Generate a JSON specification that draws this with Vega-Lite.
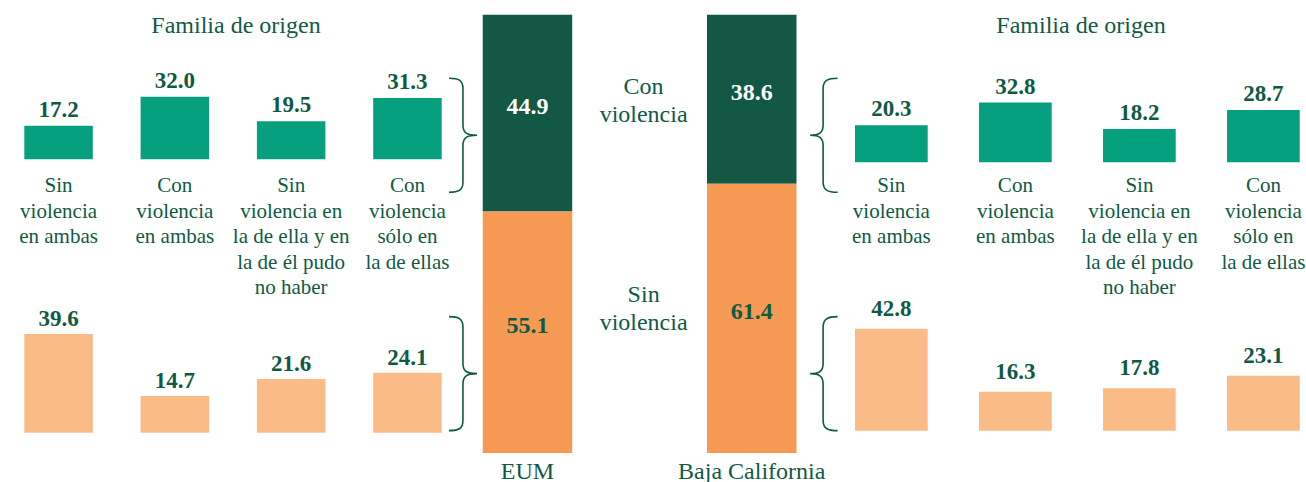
{
  "$schema": "https://vega.github.io/schema/vega-lite/v6.json",
  "padding": 0,
  "background": "white",
  "config": {"view": {"stroke": null}, "font": "Liberation Serif"},
  "datasets": {
    "totales": [
      {"region": "EUM", "series": "Con violencia", "value": 44.9},
      {"region": "EUM", "series": "Sin violencia", "value": 55.1},
      {"region": "Baja California", "series": "Con violencia", "value": 38.6},
      {"region": "Baja California", "series": "Sin violencia", "value": 61.4}
    ],
    "origen": [
      {"region": "EUM", "pareja": "Con violencia", "origen": "Sin\nviolencia\nen ambas", "value": 17.2},
      {"region": "EUM", "pareja": "Con violencia", "origen": "Con\nviolencia\nen ambas", "value": 32.0},
      {"region": "EUM", "pareja": "Con violencia", "origen": "Sin\nviolencia en\nla de ella y en\nla de él pudo\nno haber", "value": 19.5},
      {"region": "EUM", "pareja": "Con violencia", "origen": "Con\nviolencia\nsólo en\nla de ellas", "value": 31.3},
      {"region": "EUM", "pareja": "Sin violencia", "origen": "Sin\nviolencia\nen ambas", "value": 39.6},
      {"region": "EUM", "pareja": "Sin violencia", "origen": "Con\nviolencia\nen ambas", "value": 14.7},
      {"region": "EUM", "pareja": "Sin violencia", "origen": "Sin\nviolencia en\nla de ella y en\nla de él pudo\nno haber", "value": 21.6},
      {"region": "EUM", "pareja": "Sin violencia", "origen": "Con\nviolencia\nsólo en\nla de ellas", "value": 24.1},
      {"region": "Baja California", "pareja": "Con violencia", "origen": "Sin\nviolencia\nen ambas", "value": 20.3},
      {"region": "Baja California", "pareja": "Con violencia", "origen": "Con\nviolencia\nen ambas", "value": 32.8},
      {"region": "Baja California", "pareja": "Con violencia", "origen": "Sin\nviolencia en\nla de ella y en\nla de él pudo\nno haber", "value": 18.2},
      {"region": "Baja California", "pareja": "Con violencia", "origen": "Con\nviolencia\nsólo en\nla de ellas", "value": 28.7},
      {"region": "Baja California", "pareja": "Sin violencia", "origen": "Sin\nviolencia\nen ambas", "value": 42.8},
      {"region": "Baja California", "pareja": "Sin violencia", "origen": "Con\nviolencia\nen ambas", "value": 16.3},
      {"region": "Baja California", "pareja": "Sin violencia", "origen": "Sin\nviolencia en\nla de ella y en\nla de él pudo\nno haber", "value": 17.8},
      {"region": "Baja California", "pareja": "Sin violencia", "origen": "Con\nviolencia\nsólo en\nla de ellas", "value": 23.1}
    ]
  },
  "spacing": 0,
  "bounds": "flush",
  "resolve": {"scale": {"x": "independent", "y": "independent", "color": "independent", "shape": "independent"}},
  "hconcat": [
    {
      "width": 466, "height": 453,
      "title": {"text": "Familia de origen", "font": "Liberation Serif", "fontSize": 24, "fontWeight": "normal", "color": "#0f5a45", "anchor": "middle", "frame": "group", "baseline": "alphabetic", "offset": 0, "dy": 57, "dx": 3},
      "data": {"name": "origen"},
      "transform": [{"filter": "datum.region == 'EUM'"}],
      "encoding": {
        "x": {"field": "origen", "type": "nominal", "sort": null,
          "scale": {"paddingInner": 0.411, "paddingOuter": 0.209, "align": 0.5}, "axis": null}
      },
      "resolve": {"scale": {"y": "independent"}},
      "layer": [
        {
          "transform": [{"filter": "datum.pareja == 'Con violencia'"}],
          "encoding": {"y": {"field": "value", "type": "quantitative", "scale": {"domain": [-150.08, 81.4], "nice": false, "zero": false}, "axis": null}},
          "layer": [
            {"mark": {"type": "bar", "color": "#07a07f"}},
            {"mark": {"type": "text", "baseline": "alphabetic", "dy": -9, "font": "Liberation Serif", "fontSize": 23, "fontWeight": "bold", "color": "#0f5a45"},
             "encoding": {"text": {"field": "value", "type": "quantitative", "format": ".1f"}}},
            {"mark": {"type": "text", "baseline": "alphabetic", "lineBreak": "\n", "lineHeight": 25.5, "dy": 33, "font": "Liberation Serif", "fontSize": 21, "color": "#0f5a45"},
             "encoding": {"y": {"datum": 0, "type": "quantitative"}, "text": {"field": "origen"}}}
          ]
        },
        {
          "transform": [{"filter": "datum.pareja == 'Sin violencia'"}],
          "encoding": {"y": {"field": "value", "type": "quantitative", "scale": {"domain": [-8.15, 173.78], "nice": false, "zero": false}, "axis": null}},
          "layer": [
            {"mark": {"type": "bar", "color": "#fbbb87"}},
            {"mark": {"type": "text", "baseline": "alphabetic", "dy": -8, "font": "Liberation Serif", "fontSize": 23, "fontWeight": "bold", "color": "#0f5a45"},
             "encoding": {"text": {"field": "value", "type": "quantitative", "format": ".1f"}}}
          ]
        }
      ]
    },
    {
      "width": 364, "height": 453,
      "data": {"name": "totales"},
      "encoding": {
        "x": {"field": "region", "type": "nominal",
          "scale": {"domain": ["EUM", "mid", "Baja California"], "paddingInner": 0.202, "paddingOuter": 0.224, "align": 0.333},
          "axis": {"title": null, "domain": false, "ticks": false, "tickSize": 0, "grid": false, "labelAngle": 0, "labelPadding": 25, "labelBaseline": "alphabetic", "labelFont": "Liberation Serif", "labelFontSize": 24, "labelColor": "#0f5a45", "labelOverlap": false, "labelBound": false,
            "labelExpr": "datum.value == 'mid' ? '' : datum.value"}}
      },
      "layer": [
        {"mark": {"type": "bar"},
         "encoding": {
           "y": {"field": "value", "type": "quantitative", "stack": "zero", "scale": {"domain": [0, 103.35], "nice": false}, "axis": null},
           "color": {"field": "series", "type": "nominal", "scale": {"domain": ["Con violencia", "Sin violencia"], "range": ["#135745", "#f69a53"]}, "legend": null},
           "order": {"field": "series", "sort": "descending"}
         }},
        {"mark": {"type": "text", "baseline": "middle", "dy": -6, "font": "Liberation Serif", "fontSize": 24, "fontWeight": "bold"},
         "encoding": {
           "y": {"field": "value", "type": "quantitative", "stack": "zero", "bandPosition": 0.5, "scale": {"domain": [0, 103.35], "nice": false}, "axis": null},
           "detail": {"field": "series"},
           "order": {"field": "series", "sort": "descending"},
           "text": {"field": "value", "type": "quantitative", "format": ".1f"},
           "color": {"condition": {"test": "datum.series == 'Con violencia'", "value": "#ffffff"}, "value": "#0f5a45"}
         }},
        {"transform": [{"filter": "datum.region == 'EUM' && datum.series == 'Con violencia'"}],
         "mark": {"type": "text", "lineBreak": " ", "lineHeight": 28, "baseline": "alphabetic", "align": "center", "dx": 4, "font": "Liberation Serif", "fontSize": 24, "color": "#0f5a45"},
         "encoding": {
           "x": {"datum": "mid"},
           "y": {"datum": 81.84, "type": "quantitative", "scale": {"domain": [0, 103.35], "nice": false}},
           "text": {"field": "series"}
         }},
        {"transform": [{"filter": "datum.region == 'EUM' && datum.series == 'Sin violencia'"}],
         "mark": {"type": "text", "lineBreak": " ", "lineHeight": 28, "baseline": "alphabetic", "align": "center", "dx": 4, "font": "Liberation Serif", "fontSize": 24, "color": "#0f5a45"},
         "encoding": {
           "x": {"datum": "mid"},
           "y": {"datum": 34.52, "type": "quantitative", "scale": {"domain": [0, 103.35], "nice": false}},
           "text": {"field": "series"}
         }},
        {"transform": [{"filter": "datum.series == 'Con violencia'"}],
         "mark": {"type": "point", "filled": false, "opacity": 1, "stroke": "#0f5a45", "strokeWidth": 1.6, "size": 12996},
         "encoding": {
           "y": {"datum": 72.5, "type": "quantitative", "scale": {"domain": [0, 103.35], "nice": false}},
           "shape": {"field": "region", "type": "nominal", "legend": null,
             "scale": {"domain": ["EUM", "Baja California"], "range": [
               "M -1.377 -1 C -1.2 -1 -1.132 -0.96 -1.132 -0.82 L -1.132 -0.18 C -1.132 -0.04 -1.06 0 -0.886 0 C -1.06 0 -1.132 0.04 -1.132 0.18 L -1.132 0.82 C -1.132 0.96 -1.2 1 -1.377 1",
               "M 1.506 -1 C 1.33 -1 1.252 -0.96 1.252 -0.82 L 1.252 -0.18 C 1.252 -0.04 1.18 0 1.024 0 C 1.18 0 1.252 0.04 1.252 0.18 L 1.252 0.82 C 1.252 0.96 1.33 1 1.506 1"]}}
         }},
        {"transform": [{"filter": "datum.series == 'Sin violencia'"}],
         "mark": {"type": "point", "filled": false, "opacity": 1, "stroke": "#0f5a45", "strokeWidth": 1.6, "size": 12996},
         "encoding": {
           "y": {"datum": 18.1, "type": "quantitative", "scale": {"domain": [0, 103.35], "nice": false}},
           "shape": {"field": "region", "type": "nominal", "legend": null,
             "scale": {"domain": ["EUM", "Baja California"], "range": [
               "M -1.377 -1 C -1.2 -1 -1.132 -0.96 -1.132 -0.82 L -1.132 -0.18 C -1.132 -0.04 -1.06 0 -0.886 0 C -1.06 0 -1.132 0.04 -1.132 0.18 L -1.132 0.82 C -1.132 0.96 -1.2 1 -1.377 1",
               "M 1.506 -1 C 1.33 -1 1.252 -0.96 1.252 -0.82 L 1.252 -0.18 C 1.252 -0.04 1.18 0 1.024 0 C 1.18 0 1.252 0.04 1.252 0.18 L 1.252 0.82 C 1.252 0.96 1.33 1 1.506 1"]}}
         }}
      ]
    },
    {
      "width": 476, "height": 453,
      "title": {"text": "Familia de origen", "font": "Liberation Serif", "fontSize": 24, "fontWeight": "normal", "color": "#0f5a45", "anchor": "middle", "frame": "group", "baseline": "alphabetic", "offset": 0, "dy": 57, "dx": 13},
      "data": {"name": "origen"},
      "transform": [{"filter": "datum.region == 'Baja California'"}],
      "encoding": {
        "x": {"field": "origen", "type": "nominal", "sort": null,
          "scale": {"paddingInner": 0.4137, "paddingOuter": 0.126, "align": 0.8}, "axis": null}
      },
      "resolve": {"scale": {"y": "independent"}},
      "layer": [
        {
          "transform": [{"filter": "datum.pareja == 'Con violencia'"}],
          "encoding": {"y": {"field": "value", "type": "quantitative", "scale": {"domain": [-159.46, 89.03], "nice": false, "zero": false}, "axis": null}},
          "layer": [
            {"mark": {"type": "bar", "color": "#07a07f"}},
            {"mark": {"type": "text", "baseline": "alphabetic", "dy": -9, "font": "Liberation Serif", "fontSize": 23, "fontWeight": "bold", "color": "#0f5a45"},
             "encoding": {"text": {"field": "value", "type": "quantitative", "format": ".1f"}}},
            {"mark": {"type": "text", "baseline": "alphabetic", "lineBreak": "\n", "lineHeight": 25.5, "dy": 30, "font": "Liberation Serif", "fontSize": 21, "color": "#0f5a45"},
             "encoding": {"y": {"datum": 0, "type": "quantitative"}, "text": {"field": "origen"}}}
          ]
        },
        {
          "transform": [{"filter": "datum.pareja == 'Sin violencia'"}],
          "encoding": {"y": {"field": "value", "type": "quantitative", "scale": {"domain": [-9.36, 180.74], "nice": false, "zero": false}, "axis": null}},
          "layer": [
            {"mark": {"type": "bar", "color": "#fbbb87"}},
            {"mark": {"type": "text", "baseline": "alphabetic", "dy": -13, "font": "Liberation Serif", "fontSize": 23, "fontWeight": "bold", "color": "#0f5a45"},
             "encoding": {"text": {"field": "value", "type": "quantitative", "format": ".1f"}}}
          ]
        }
      ]
    }
  ]
}
